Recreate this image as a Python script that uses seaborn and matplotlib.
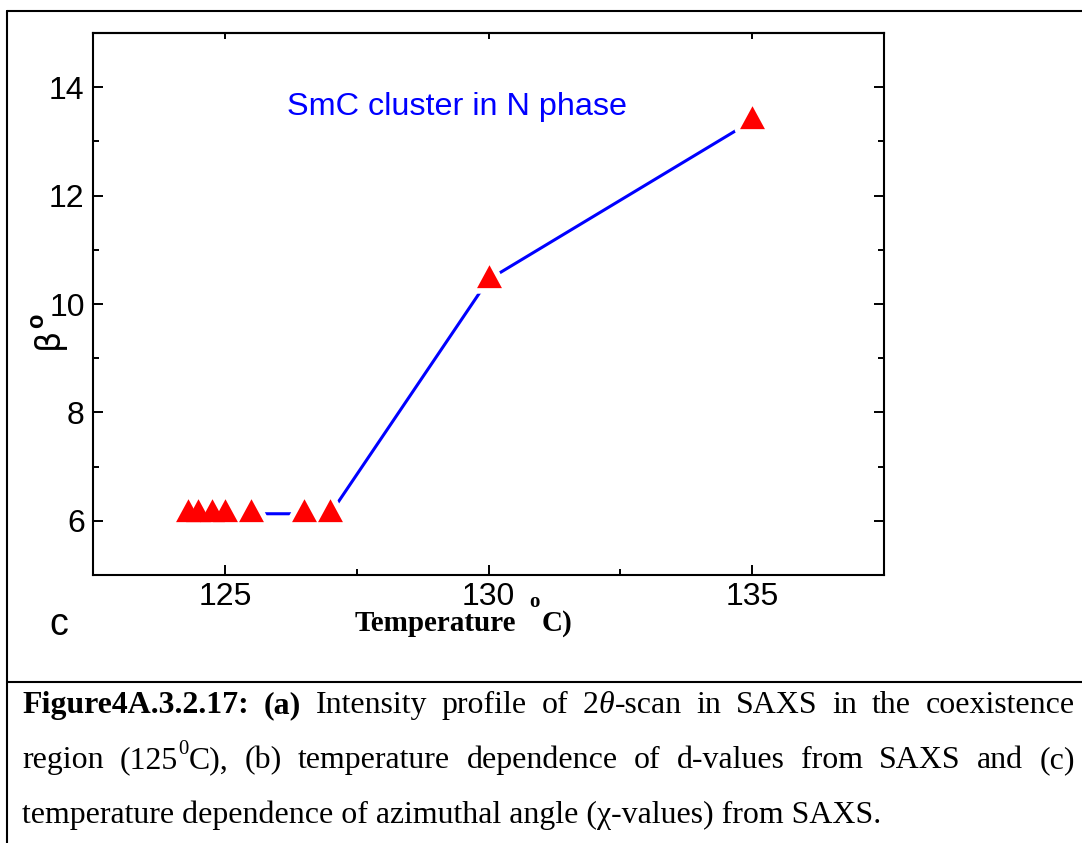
import numpy as np
import pandas as pd
import matplotlib
matplotlib.use("Agg")
import matplotlib.pyplot as plt
import seaborn as sns
from matplotlib.path import Path
from matplotlib.lines import Line2D
from matplotlib.ticker import MultipleLocator
from matplotlib.font_manager import FontProperties

# ---------------- data ----------------
temperature = [124.3, 124.5, 124.75, 125.0, 125.5, 126.5, 127.0, 130.0, 135.0]
beta = [6.13, 6.13, 6.13, 6.13, 6.13, 6.13, 6.13, 10.45, 13.38]
x_ticks = [125, 130, 135]
y_ticks = [6, 8, 10, 12, 14]
annotation = "SmC cluster in N phase"
panel_label = "c"

caption_line1 = [[("Figure4A.3.2.17:", "b")], [("(a)", "b")], [("Intensity", "r")],
                 [("profile", "r")], [("of", "r")], [("2", "r"), ("θ", "i"), ("-scan", "r")],
                 [("in", "r")], [("SAXS", "r")], [("in", "r")], [("the", "r")],
                 [("coexistence", "r")]]
caption_line2 = [[("region", "r")], [("(125", "r"), ("0", "sup"), ("C),", "r")],
                 [("(b)", "r")], [("temperature", "r")], [("dependence", "r")],
                 [("of", "r")], [("d-values", "r")], [("from", "r")], [("SAXS", "r")],
                 [("and", "r")], [("(c)", "r")]]
caption_line3 = "temperature dependence of azimuthal angle (χ-values) from SAXS."

# ---------------- figure ----------------
W, H, DPI = 1082, 843, 100
sns.set_theme(style="white")
plt.rcParams["font.family"] = ["Liberation Sans", "DejaVu Sans"]

fig = plt.figure(figsize=(W / DPI, H / DPI), dpi=DPI)
fig.patch.set_facecolor("white")

def fx(px):
    return px / W

def fy(py):
    return 1 - py / H

ax = fig.add_axes([fx(93), fy(575), (884 - 93) / W, (575 - 33) / H])
ax.set_facecolor("white")

df = pd.DataFrame({"Temperature": temperature, "beta": beta})

# triangle centred on its centroid (Origin style)
tri = Path([(0, 2), (-1.63, -1), (1.63, -1), (0, 2)],
           [Path.MOVETO, Path.LINETO, Path.LINETO, Path.CLOSEPOLY])

sns.lineplot(data=df, x="Temperature", y="beta", ax=ax, color=(0, 0, 1),
             linewidth=2.2, estimator=None, sort=False, zorder=2)
# white halo to create the gap between line and symbols
sns.scatterplot(data=df, x="Temperature", y="beta", ax=ax, marker=tri, s=22 ** 2,
                color="white", edgecolor="white", linewidth=8.0, zorder=3)
ax.collections[-1].set_joinstyle("round")
sns.scatterplot(data=df, x="Temperature", y="beta", ax=ax, marker=tri, s=22 ** 2,
                color="red", edgecolor="red", linewidth=0, zorder=4)

ax.set_xlim(122.5, 137.5)
ax.set_ylim(5, 15)
ax.set_xticks(x_ticks)
ax.set_yticks(y_ticks)
ax.xaxis.set_minor_locator(MultipleLocator(2.5))
ax.yaxis.set_minor_locator(MultipleLocator(1))
ax.set_xlabel("")

for sp in ax.spines.values():
    sp.set_visible(True)
    sp.set_color("black")
    sp.set_linewidth(1.5)

ax.tick_params(which="major", direction="in", length=7.2, width=1.4, colors="black",
               left=True, right=True, bottom=True, top=False, labelsize=23)
ax.tick_params(axis="x", which="major", pad=5)
ax.tick_params(axis="y", which="major", pad=6)
ax.tick_params(which="minor", direction="in", length=4.2, width=1.4, colors="black",
               left=True, right=True, bottom=True, top=False)

sec = ax.secondary_xaxis("top")
sec.set_xticks(x_ticks)
sec.tick_params(direction="in", length=4.2, width=1.4, colors="black", labeltop=False)
sec.spines["top"].set_linewidth(1.5)

ax.text(0.245, 0.849, annotation, transform=ax.transAxes, color=(0, 0, 1),
        fontsize=23.3, ha="left", va="baseline")

# y label: beta with bold superscript o
ax.set_ylabel("β", fontsize=24, color="black", family="DejaVu Sans")
ax.yaxis.set_label_coords(-0.036, 0.437)
fig.text(fx(37), fy(321), "o", fontsize=17, weight="bold", rotation=90,
         ha="center", va="center", color="black", family="Liberation Sans")

# x label pieces
serif_b = dict(family="Liberation Serif", weight="bold", color="black")
fig.text(fx(355), fy(631), "Temperature", fontsize=21, ha="left", va="baseline", **serif_b)
fig.text(fx(529), fy(607), "o", fontsize=15, ha="left", va="baseline", **serif_b)
fig.text(fx(542), fy(631), "C)", fontsize=21, ha="left", va="baseline", **serif_b)

fig.text(fx(49), fy(635), panel_label, fontsize=27, ha="left", va="baseline",
         family="Liberation Sans", color="black")

# frame lines
lw_frame = 1.5
fig.add_artist(Line2D([fx(7), 1.0], [fy(11), fy(11)], color="black", lw=lw_frame))
fig.add_artist(Line2D([fx(7), fx(7)], [fy(11), 0.0], color="black", lw=lw_frame))
fig.add_artist(Line2D([fx(7), 1.0], [fy(682), fy(682)], color="black", lw=lw_frame))

# ---------------- caption (justified) ----------------
fig.canvas.draw()
renderer = fig.canvas.get_renderer()

def fp_for(style, size):
    if style == "b":
        return FontProperties(family="Liberation Serif", weight="bold", size=size)
    if style == "i":
        return FontProperties(family="Liberation Serif", style="italic", size=size)
    if style == "sup":
        return FontProperties(family="Liberation Serif", size=size * 0.65)
    return FontProperties(family="Liberation Serif", size=size)

def text_width(s, fp):
    t = fig.text(0, 0, s, fontproperties=fp)
    w = t.get_window_extent(renderer).width
    t.remove()
    return w

# fit font size so that the last line spans its measured width
base = 20.0
w3 = text_width(caption_line3, FontProperties(family="Liberation Serif", size=base))
cap_size = base * (882 - 22) / w3

def word_width(word):
    return sum(text_width(s, fp_for(st, cap_size)) for s, st in word)

def draw_justified(words, x0, x1, baseline):
    widths = [word_width(w) for w in words]
    gap = ((x1 - x0) - sum(widths)) / (len(words) - 1)
    x = x0
    for word, ww in zip(words, widths):
        xx = x
        for s, st in word:
            fp = fp_for(st, cap_size)
            dy = -cap_size * 0.45 * DPI / 72 if st == "sup" else 0
            fig.text(fx(xx), fy(baseline + dy), s, fontproperties=fp,
                     ha="left", va="baseline", color="black")
            xx += text_width(s, fp)
        x += ww + gap

draw_justified(caption_line1, 22, 1075, 713)
draw_justified(caption_line2, 22, 1075, 768)
fig.text(fx(22), fy(823), caption_line3,
         fontproperties=FontProperties(family="Liberation Serif", size=cap_size),
         ha="left", va="baseline", color="black")

fig.savefig("out.png", dpi=DPI, facecolor="white")
